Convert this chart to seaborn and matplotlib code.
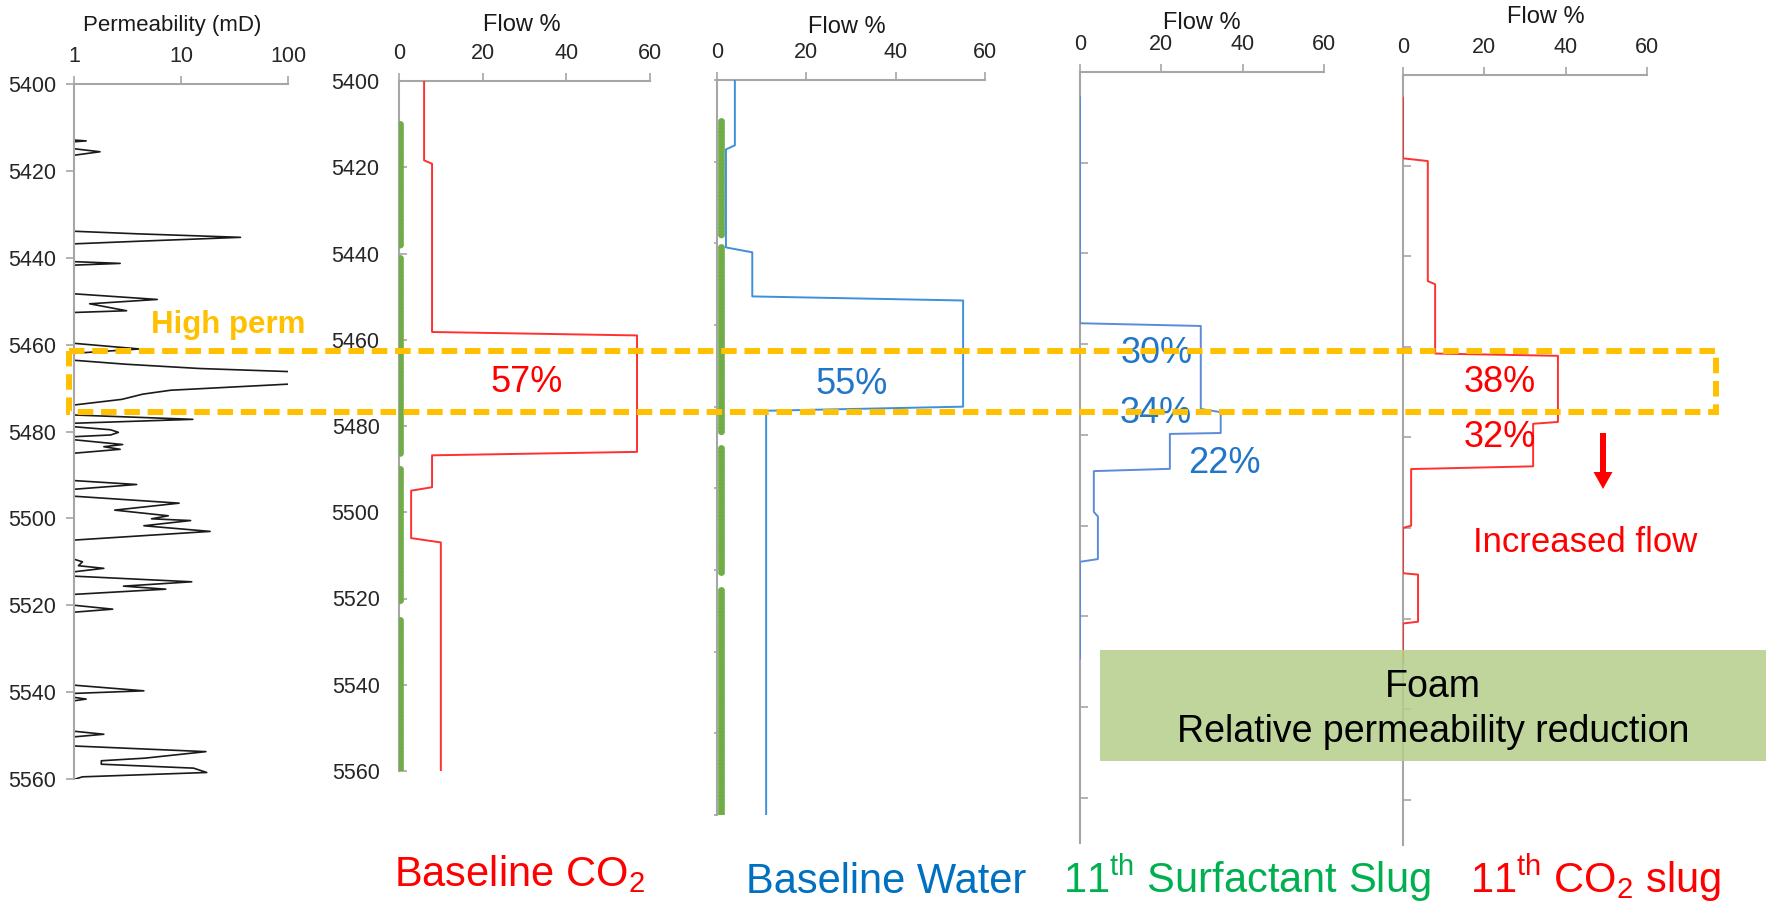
import numpy as np
import pandas as pd
import matplotlib
matplotlib.use("Agg")
import matplotlib.pyplot as plt
from matplotlib.patches import Rectangle, FancyArrow
from matplotlib.ticker import FixedLocator, FuncFormatter, NullLocator
import seaborn as sns

###############################################
# data
###############################################
# permeability log (depth ft, mD) - values above 100 run off the axis
perm_depth = [5412.9, 5413.1, 5413.3, 5414.9, 5415.6, 5416.4, 5433.9, 5434.5, 5435.3, 5436.2,
              5436.8, 5440.9, 5441.3, 5441.7, 5448.3, 5449.6, 5450.6, 5452.2, 5452.6, 5459.7,
              5461.0, 5462.0, 5463.6, 5464.5, 5465.5, 5466.2, 5467.0, 5468.3, 5469.1, 5470.5,
              5471.4, 5472.6, 5473.9, 5476.2, 5477.2, 5478.1, 5478.9, 5479.6, 5480.2, 5480.8,
              5481.2, 5481.9, 5483.0, 5483.5, 5484.1, 5485.0, 5491.3, 5492.2, 5493.3, 5494.9,
              5496.5, 5498.1, 5499.4, 5500.1, 5500.5, 5501.7, 5503.0, 5505.0, 5509.4, 5510.0,
              5510.9, 5511.5, 5512.3, 5513.3, 5514.6, 5515.6, 5516.3, 5517.5, 5520.0, 5520.9,
              5521.6, 5538.4, 5539.7, 5540.3, 5541.2, 5541.6, 5542.0, 5549.0, 5549.7, 5550.3,
              5552.4, 5553.7, 5555.2, 5555.8, 5556.6, 5557.5, 5558.5, 5559.5, 5560.1]
perm_md = [1.0, 1.3, 1.0, 1.0, 1.75, 1.0, 1.0, 4.0, 36.0, 4.0,
           1.0, 1.0, 2.7, 1.0, 1.0, 6.0, 1.4, 3.1, 1.0, 1.0,
           4.1, 1.0, 1.0, 3.0, 15.0, 100.0, 400.0, 400.0, 100.0, 8.0,
           4.4, 2.8, 1.0, 1.0, 12.9, 1.0, 1.0, 2.2, 2.6, 2.2,
           1.0, 1.0, 2.85, 1.9, 2.7, 1.0, 1.0, 3.85, 1.0, 1.0,
           9.6, 2.4, 7.6, 5.3, 12.3, 4.5, 18.7, 1.0, 1.0, 1.2,
           1.1, 1.9, 1.0, 1.0, 12.6, 2.9, 7.2, 1.0, 1.0, 2.3,
           1.0, 1.0, 4.5, 1.0, 1.0, 1.3, 1.0, 1.0, 1.9, 1.0,
           1.0, 17.1, 4.6, 1.8, 1.8, 13.1, 17.4, 1.2, 1.0]

# baseline co2 flow profile
co2_base_depth = [5400, 5418.4, 5419.2, 5458.2, 5459.0, 5486.0, 5486.8, 5494.2, 5495.0, 5506.0, 5507.0, 5560]
co2_base_flow = [6.0, 6.0, 7.9, 7.9, 56.9, 56.9, 7.9, 7.9, 2.9, 2.9, 10.0, 10.0]

# baseline water flow profile
water_depth = [5400, 5416.0, 5417.0, 5441.0, 5442.2, 5453.0, 5454.0, 5480.0, 5481.0, 5580]
water_flow = [4.0, 4.0, 2.0, 2.0, 7.9, 7.9, 55.1, 55.1, 11.0, 11.0]

# 11th surfactant slug flow profile
surf_depth = [5405.5, 5455.4, 5456.0, 5474.3, 5475.0, 5479.6, 5479.8, 5487.5, 5488.0,
              5497.0, 5498.0, 5507.4, 5508.0, 5529.4]
surf_flow = [0, 0, 29.7, 29.7, 34.6, 34.6, 22.1, 22.1, 3.4, 3.4, 4.4, 4.4, 0, 0]

# 11th co2 slug flow profile
co2_slug_depth = [5405.0, 5418.4, 5419.0, 5445.5, 5446.2, 5461.5, 5462.0, 5476.6, 5477.0,
                  5486.4, 5487.0, 5499.5, 5500.0, 5510.0, 5510.3, 5520.7, 5521.1, 5529.7]
co2_slug_flow = [0, 0, 6.1, 6.1, 7.9, 7.9, 38.1, 38.1, 32.0, 32.0, 2.0, 2.0, 0, 0, 3.7, 3.7, 0, 0]

# perforated intervals (green beads)
perf_top = [5410.0, 5441.0, 5490.0, 5525.0]
perf_bottom = [5438.5, 5486.5, 5520.5, 5581.0]

# labels
panel_titles = ["Baseline CO$_\\mathregular{2}$", "Baseline Water",
                "11$^\\mathregular{th}$ Surfactant Slug", "11$^\\mathregular{th}$ CO$_\\mathregular{2}$ slug"]
flow_ticks = [0, 20, 40, 60]
perm_ticks = [1, 10, 100]
depth_ticks = list(range(5400, 5581, 20))

###############################################
# styling
###############################################
sns.set_style("ticks")
plt.rcParams["font.family"] = ["Liberation Sans", "DejaVu Sans"]
plt.rcParams["mathtext.fontset"] = "custom"
plt.rcParams["mathtext.rm"] = "Liberation Sans"

RED = "#FF3030"
WATER = "#3D90DA"
SURF = "#5B8BD9"
GREEN = "#70AD47"
GOLD = "#FFC000"
SPINE = "#A6A6A6"
TICK_FS = 15.5

W, H = 1777, 906
fig = plt.figure(figsize=(W / 100, H / 100), dpi=100)


def px_axes(left, top, right, bottom):
    # build an axes from a pixel box
    return fig.add_axes([left / W, 1 - bottom / H, (right - left) / W, (bottom - top) / H])


def style_panel(ax, ylim, ytick_dir, ytick_len, show_ylabels, ypad=8):
    ax.set_ylim(ylim[1], ylim[0])
    ax.xaxis.tick_top()
    for s in ["right", "bottom"]:
        ax.spines[s].set_visible(False)
    for s in ["left", "top"]:
        ax.spines[s].set_color(SPINE)
        ax.spines[s].set_linewidth(1.5)
    ax.set_facecolor("none")
    ax.set_xlabel("")
    ax.set_ylabel("")
    ax.yaxis.set_major_locator(FixedLocator([t for t in depth_ticks if ylim[0] <= t <= ylim[1]]))
    ax.tick_params(axis="x", direction="out", length=6, width=1.2, color=SPINE, pad=6,
                   labelsize=TICK_FS, top=True, bottom=False)
    ax.tick_params(axis="y", direction=ytick_dir, length=ytick_len, width=1.2, color=SPINE,
                   pad=ypad, labelsize=TICK_FS, labelleft=show_ylabels)


###############################################
# permeability panel
###############################################
ax0 = px_axes(74, 84, 288, 779)
sns.lineplot(x=perm_md, y=perm_depth, sort=False, estimator=None, color="#1a1a1a", lw=1.2, ax=ax0)
ax0.set_xscale("log")
ax0.set_xlim(1, 100)
ax0.xaxis.set_major_locator(FixedLocator(perm_ticks))
ax0.xaxis.set_minor_locator(NullLocator())
ax0.xaxis.set_major_formatter(FuncFormatter(lambda v, p: f"{v:g}"))
style_panel(ax0, (5400, 5560), "out", 6, True, ypad=7)

###############################################
# flow panels
###############################################
panels = [
    (px_axes(399, 81, 650, 771), co2_base_flow, co2_base_depth, RED, (5400, 5560), "in", 6, True, 0.3),
    (px_axes(717, 80, 985, 815), water_flow, water_depth, WATER, (5400, 5580), "out", 2, False, 0.9),
    (px_axes(1080, 72, 1324, 843), surf_flow, surf_depth, SURF, (5400, 5570), "in", 6, False, None),
    (px_axes(1403, 75, 1647, 845), co2_slug_flow, co2_slug_depth, RED, (5400, 5570), "in", 6, False, None),
]

for ax, flow, depth, col, ylim, tdir, tlen, ylab, perf_x in panels:
    sns.lineplot(x=flow, y=depth, sort=False, estimator=None, color=col, lw=1.4, ax=ax, zorder=3)
    ax.set_xlim(0, 60)
    ax.xaxis.set_major_locator(FixedLocator(flow_ticks))
    style_panel(ax, ylim, tdir, tlen, ylab, ypad=14 if ylab else 8)
    if perf_x is not None:
        for t, b in zip(perf_top, perf_bottom):
            ax.plot([perf_x, perf_x], [t, b], color=GREEN, lw=5, linestyle=(0, (0.01, 0.5)),
                    dash_capstyle="round", clip_on=True, zorder=3)

ax_co2, ax_w, ax_s, ax_c = [p[0] for p in panels]

# percent labels in panel data coords
PCT_FS = 26
ax_co2.text(30.6, 5469.8, "57%", color="#FF0000", fontsize=PCT_FS, ha="center", va="center")
ax_w.text(30.2, 5474.5, "55%", color="#2176C7", fontsize=PCT_FS, ha="center", va="center")
ax_s.text(18.9, 5462.0, "30%", color="#2176C7", fontsize=PCT_FS, ha="center", va="center")
ax_s.text(18.7, 5475.2, "34%", color="#2176C7", fontsize=PCT_FS, ha="center", va="center")
ax_s.text(35.4, 5486.4, "22%", color="#2176C7", fontsize=PCT_FS, ha="center", va="center")
ax_c.text(23.9, 5467.8, "38%", color="#FF0000", fontsize=PCT_FS, ha="center", va="center")
ax_c.text(23.9, 5480.0, "32%", color="#FF0000", fontsize=PCT_FS, ha="center", va="center")
ax_c.text(44.8, 5503.2, "Increased flow", color="#FF0000", fontsize=25, ha="center", va="center")

###############################################
# overlay for callouts (pixel coordinates)
###############################################
ov = fig.add_axes([0, 0, 1, 1], zorder=10)
ov.set_xlim(0, W)
ov.set_ylim(H, 0)
ov.axis("off")
ov.set_facecolor("none")

ov.text(172, 25, "Permeability (mD)", fontsize=16, ha="center", va="center", color="#1a1a1a")
for x, y in [(522, 25), (847, 27), (1202, 23), (1546, 17)]:
    ov.text(x, y, "Flow %", fontsize=17, ha="center", va="center", color="#1a1a1a")

ov.text(228, 325, "High perm", fontsize=22.5, fontweight="bold", color=GOLD, ha="center", va="center")
ov.add_patch(Rectangle((69, 351), 1647, 61, fill=False, ec=GOLD, lw=4.3, ls=(0, (2.6, 1.3))))

ov.add_patch(FancyArrow(1603, 433, 0, 56, width=6, head_width=19, head_length=17,
                        length_includes_head=True, color="#FF0000", lw=0))

ov.add_patch(Rectangle((1100, 650), 666, 111, fc="#B5CE8A", ec="none", alpha=0.85))
ov.text(1433, 697, "Foam", fontsize=27, ha="center", va="baseline", color="black")
ov.text(1433, 742, "Relative permeability reduction", fontsize=27, ha="center", va="baseline", color="black")

title_cols = ["#FF0000", "#0070C0", "#00B050", "#FF0000"]
title_x = [519, 886, 1247, 1596]
title_y = [886, 893, 893, 893]
for t, c, x, y in zip(panel_titles, title_cols, title_x, title_y):
    ov.text(x, y, t, fontsize=30, color=c, ha="center", va="baseline")

fig.savefig("out.png", dpi=100)
